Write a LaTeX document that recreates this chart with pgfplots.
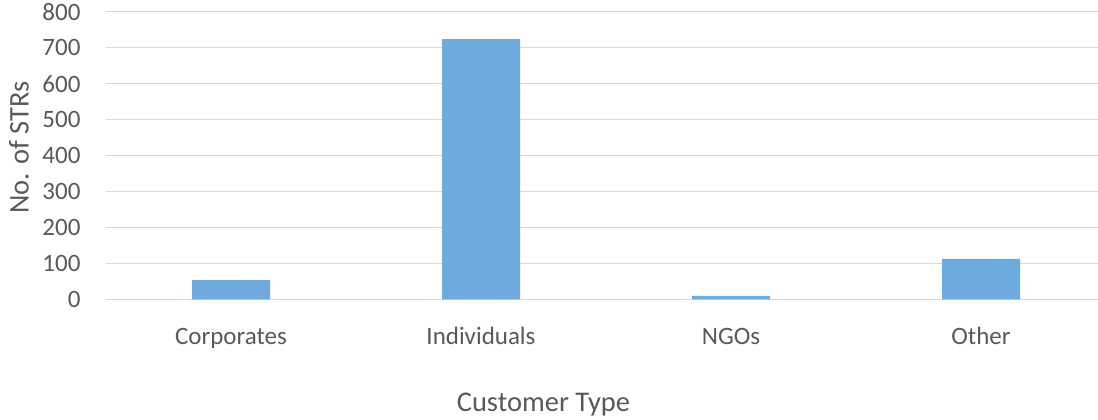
\documentclass[border=0pt]{standalone}
\usepackage{pgfplots}
\pgfplotsset{compat=1.18}
\usepackage{fontspec}
\setmainfont{Carlito}
\definecolor{barblue}{RGB}{109,170,221}
\definecolor{gridgray}{RGB}{217,217,217}
\definecolor{txtgray}{RGB}{89,89,89}
\begin{document}
\begin{tikzpicture}[x=1pt,y=1pt]
\begin{axis}[
  at={(106pt,120.5pt)}, anchor=south west,
  scale only axis,
  width=992pt, height=287.7pt,
  xmin=-0.5, xmax=3.468,
  ymin=0, ymax=800,
  ytick={0,100,...,800},
  xtick={0,1,2,3},
  xticklabels={Corporates,Individuals,NGOs,Other},
  axis line style={draw=none},
  tick style={draw=none},
  ymajorgrids,
  grid style={gridgray, line width=1.4pt},
  /pgf/number format/assume math mode=true,
  ticklabel style={font=\fontsize{25}{29}\selectfont, text=txtgray},
  yticklabel style={xshift=-22pt},
  xticklabel style={anchor=base, yshift=-45.5pt},
  xlabel={Customer Type},
  ylabel={No. of STRs},
  label style={font=\fontsize{28.5}{32}\selectfont, text=txtgray},
  xlabel style={at={(axis description cs:0.441,-0.39)}, anchor=base},
  ylabel style={at={(axis description cs:-0.0877,0.528)}, anchor=center, rotate=0},
  clip=false,
]
\addplot[ybar, bar width=0.312, fill=barblue, draw=none] coordinates {
  (0,54) (1,724) (2,10) (3,113)
};
\end{axis}
\pgfresetboundingbox
\path[use as bounding box] (0pt,0pt) rectangle (1098pt,420pt);
\end{tikzpicture}
\end{document}
